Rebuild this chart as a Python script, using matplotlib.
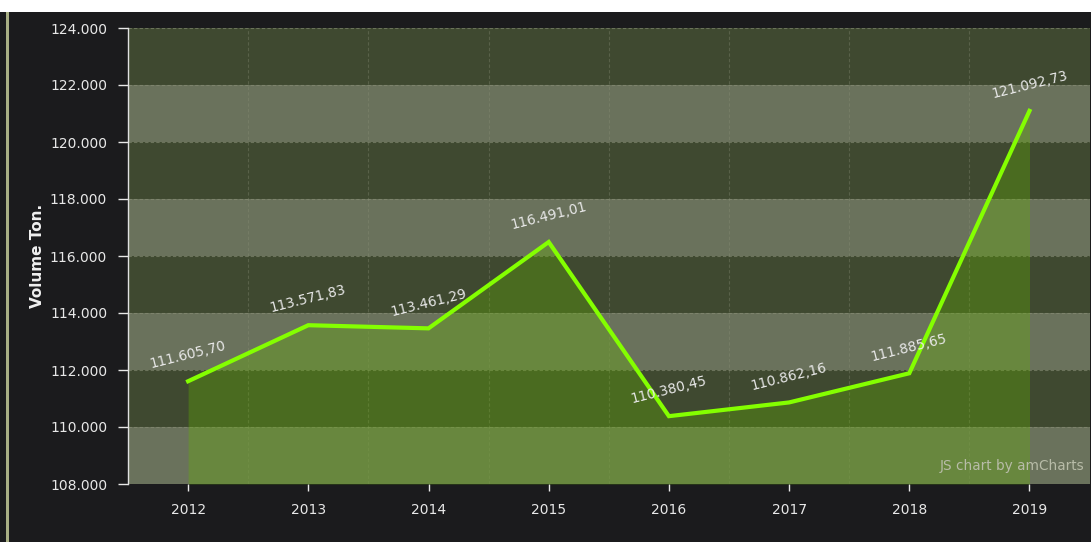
import matplotlib
matplotlib.use("Agg")
import matplotlib.pyplot as plt
from matplotlib.patches import Rectangle
from matplotlib.ticker import FuncFormatter

years = ["2012", "2013", "2014", "2015", "2016", "2017", "2018", "2019"]
volumes = [111605.70, 113571.83, 113461.29, 116491.01, 110380.45, 110862.16, 111885.65, 121092.73]
y_ticks = [108000, 110000, 112000, 114000, 116000, 118000, 120000, 122000, 124000]


def fmt_num(v, decimals=2):
    s = f"{v:,.{decimals}f}"
    return s.replace(",", "X").replace(".", ",").replace("X", ".")


W, H = 1091, 542
fig = plt.figure(figsize=(W / 100, H / 100), dpi=100)
fig.patch.set_facecolor("#1b1b1d")

# top white strip and left olive border
fig.add_artist(Rectangle((0, 1 - 12 / H), 1, 12 / H, transform=fig.transFigure,
                         facecolor="white", edgecolor="none", zorder=-1))
fig.add_artist(Rectangle((6 / W, 0), 3 / W, 1 - 12 / H, transform=fig.transFigure,
                         facecolor="#a8ae84", edgecolor="none", zorder=-1))

ax = fig.add_axes([128 / W, (542 - 484) / H, (1089.6 - 128) / W, (484 - 28) / H])
ax.set_facecolor("none")

x = list(range(len(years)))
ax.set_xlim(-0.5, len(years) - 0.5)
ax.set_ylim(y_ticks[0], y_ticks[-1])

# alternating bands
for i in range(len(y_ticks) - 1):
    col = "#6a725c" if i % 2 == 0 else "#3f4930"
    ax.axhspan(y_ticks[i], y_ticks[i + 1], color=col, zorder=0, lw=0)

# grid lines
for yt in y_ticks:
    ax.axhline(yt, color="#8a9078", lw=0.8, ls=(0, (3, 2)), alpha=0.6, zorder=1)
for i in range(len(years) - 1):
    ax.axvline(i + 0.5, color="#8a9078", lw=0.8, ls=(0, (3, 2)), alpha=0.35, zorder=1)

ax.fill_between(x, volumes, y_ticks[0], color="#64b400", alpha=0.32, lw=0, zorder=2)
ax.plot(x, volumes, color="#84ff00", lw=3.0, zorder=3, solid_joinstyle="miter")

for xi, v in zip(x, volumes):
    ax.annotate(fmt_num(v), (xi, v), xytext=(0, 26), textcoords="offset pixels",
                ha="center", va="center", rotation=14, color="#e8e8e8", fontsize=9.8,
                zorder=4)

ax.text(0.995, 0.025, "JS chart by amCharts", transform=ax.transAxes, ha="right",
        va="bottom", color="#b8bca8", fontsize=9.8, zorder=4)

ax.set_yticks(y_ticks)
ax.yaxis.set_major_formatter(FuncFormatter(lambda v, p: f"{int(round(v)):,}".replace(",", ".")))
ax.set_xticks(x)
ax.set_xticklabels(years)
ax.tick_params(axis="y", colors="#e8e8e8", labelsize=10, length=7, width=1, pad=8)
ax.tick_params(axis="x", colors="#e8e8e8", labelsize=10, length=5, width=1, pad=9)
for t in ax.get_xticklines():
    t.set_color("#555555")
for sp in ["top", "right", "bottom"]:
    ax.spines[sp].set_visible(False)
ax.spines["left"].set_color("#e0e0e0")
ax.spines["left"].set_linewidth(1)

fig.text(38 / W, 1 - 256 / H, "Volume Ton.", rotation=90, ha="center", va="center",
         color="#f0f0f0", fontsize=11, fontweight="bold")

fig.savefig("out.png", dpi=100, facecolor=fig.get_facecolor())
